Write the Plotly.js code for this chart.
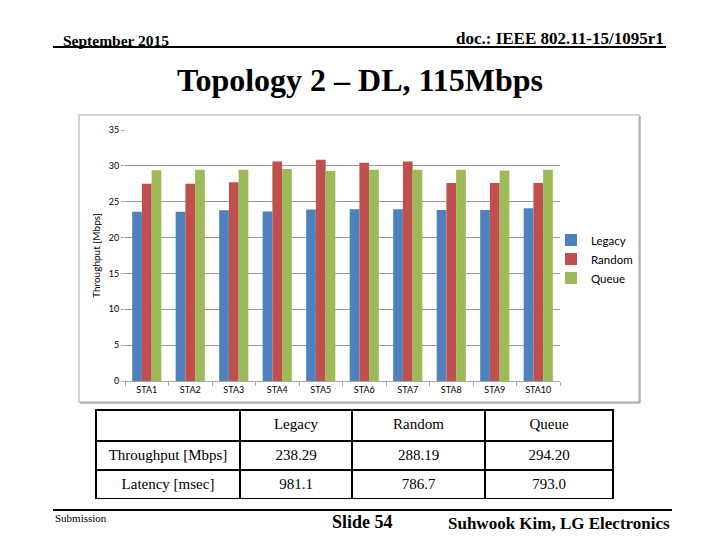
<!DOCTYPE html>
<html>
<head>
<meta charset="utf-8">
<script src="https://cdn.plot.ly/plotly-3.0.1.min.js"></script>
<style>
  html, body { margin: 0; padding: 0; background: #fff; }
  #chart { width: 720px; height: 540px; }
</style>
</head>
<body>
<div id="chart"></div>
<script>
const stations = ["STA1", "STA2", "STA3", "STA4", "STA5", "STA6", "STA7", "STA8", "STA9", "STA10"];
const legacy = [23.6, 23.6, 23.8, 23.65, 23.9, 23.95, 23.95, 23.85, 23.85, 24.1];
const random = [27.5, 27.5, 27.7, 30.6, 30.85, 30.45, 30.6, 27.6, 27.6, 27.6];
const queue  = [29.4, 29.45, 29.45, 29.55, 29.3, 29.45, 29.45, 29.45, 29.35, 29.45];

// summary table
const tableHeader = ["", "Legacy", "Random", "Queue"];
const tableRows = ["Throughput [Mbps]", "Latency [msec]"];
const legacyStats = ["238.29", "981.1"];
const randomStats = ["288.19", "786.7"];
const queueStats = ["294.20", "793.0"];

const W = 720, H = 540;
const px = x => x / W;
const py = y => 1 - y / H;

const serif = "Liberation Serif, Times New Roman, serif";
const sans = "Lato, Open Sans, sans-serif";

const bar = (name, y, color) => ({
  type: "bar", name: name, x: stations, y: y,
  marker: { color: color, line: { width: 0 } },
  xaxis: "x", yaxis: "y"
});

const traces = [
  bar("Legacy", legacy, "#4F81BD"),
  bar("Random", random, "#C0504D"),
  bar("Queue", queue, "#9BBB59"),
  {
    type: "table",
    domain: { x: [px(96), px(613)], y: [py(500), py(410)] },
    columnwidth: [144, 112, 133, 128],
    header: {
      values: tableHeader,
      height: 31,
      align: "center",
      line: { color: "#000", width: 2 },
      fill: { color: "#fff" },
      font: { family: serif, size: 15, color: "#000" }
    },
    cells: {
      values: [tableRows, legacyStats, randomStats, queueStats],
      height: 29,
      align: "center",
      line: { color: "#000", width: 2 },
      fill: { color: "#fff" },
      font: { family: serif, size: 15, color: "#000" }
    }
  }
];

const layout = {
  width: W, height: H,
  margin: { l: 0, r: 0, t: 0, b: 0 },
  paper_bgcolor: "#fff",
  plot_bgcolor: "#fff",
  showlegend: true,
  barmode: "group",
  bargap: 0.33,
  bargroupgap: 0,
  xaxis: {
    domain: [px(125), px(560)],
    showline: true, linecolor: "#a6a6a6", linewidth: 1,
    ticks: "outside", tickson: "boundaries", ticklen: 4, tickcolor: "#a6a6a6",
    tickfont: { family: sans, size: 9, color: "#000" },
    showgrid: false, fixedrange: true
  },
  yaxis: {
    domain: [py(381), py(130)],
    range: [0, 35], dtick: 5,
    showline: false,
    ticks: "outside", ticklen: 3, tickcolor: "#a6a6a6",
    tickfont: { family: sans, size: 9, color: "#000" },
    gridcolor: "#9a9a9a", gridwidth: 1,
    zeroline: false,
    title: { text: "Throughput [Mbps]", font: { family: sans, size: 10, color: "#000" }, standoff: 6 }
  },
  legend: {
    x: px(551), xanchor: "left",
    y: py(259), yanchor: "middle",
    font: { family: sans, size: 11.5, color: "#000" },
    itemwidth: 30,
    tracegroupgap: 0,
    bgcolor: "rgba(0,0,0,0)"
  },
  shapes: [
    // chart frame
    { type: "rect", xref: "paper", yref: "paper", x0: px(79), x1: px(639), y0: py(402), y1: py(115),
      line: { color: "#c6c6c6", width: 1.5 }, layer: "below" },
    { type: "line", xref: "paper", yref: "paper", x0: px(80), x1: px(640), y0: py(403), y1: py(403),
      line: { color: "#8c8c8c", width: 1 } },
    { type: "line", xref: "paper", yref: "paper", x0: px(640), x1: px(640), y0: py(116), y1: py(403),
      line: { color: "#8c8c8c", width: 1 } },
    // header and footer rules
    { type: "line", xref: "paper", yref: "paper", x0: px(53), x1: px(666), y0: py(47), y1: py(47),
      line: { color: "#000", width: 2 } },
    { type: "line", xref: "paper", yref: "paper", x0: px(53), x1: px(672), y0: py(510), y1: py(510),
      line: { color: "#000", width: 2 } }
  ],
  annotations: [
    { text: "<b>September 2015</b>", xref: "paper", yref: "paper", x: px(61), y: py(40),
      xanchor: "left", yanchor: "middle", showarrow: false, font: { family: serif, size: 15.5, color: "#000" } },
    { text: "<b>doc.: IEEE 802.11-15/1095r1</b>", xref: "paper", yref: "paper", x: px(666), y: py(39),
      xanchor: "right", yanchor: "middle", showarrow: false, font: { family: serif, size: 17, color: "#000" } },
    { text: "<b>Topology 2 – DL, 115Mbps</b>", xref: "paper", yref: "paper", x: px(360), y: py(80),
      xanchor: "center", yanchor: "middle", showarrow: false, font: { family: serif, size: 32, color: "#000" } },
    { text: "Submission", xref: "paper", yref: "paper", x: px(53), y: py(518),
      xanchor: "left", yanchor: "middle", showarrow: false, font: { family: serif, size: 11, color: "#000" } },
    { text: "<b>Slide 54</b>", xref: "paper", yref: "paper", x: px(362), y: py(522),
      xanchor: "center", yanchor: "middle", showarrow: false, font: { family: serif, size: 18, color: "#000" } },
    { text: "<b>Suhwook Kim, LG Electronics</b>", xref: "paper", yref: "paper", x: px(672), y: py(523),
      xanchor: "right", yanchor: "middle", showarrow: false, font: { family: serif, size: 17, color: "#000" } }
  ]
};

Plotly.newPlot("chart", traces, layout, { staticPlot: true, displayModeBar: false });
</script>
</body>
</html>
